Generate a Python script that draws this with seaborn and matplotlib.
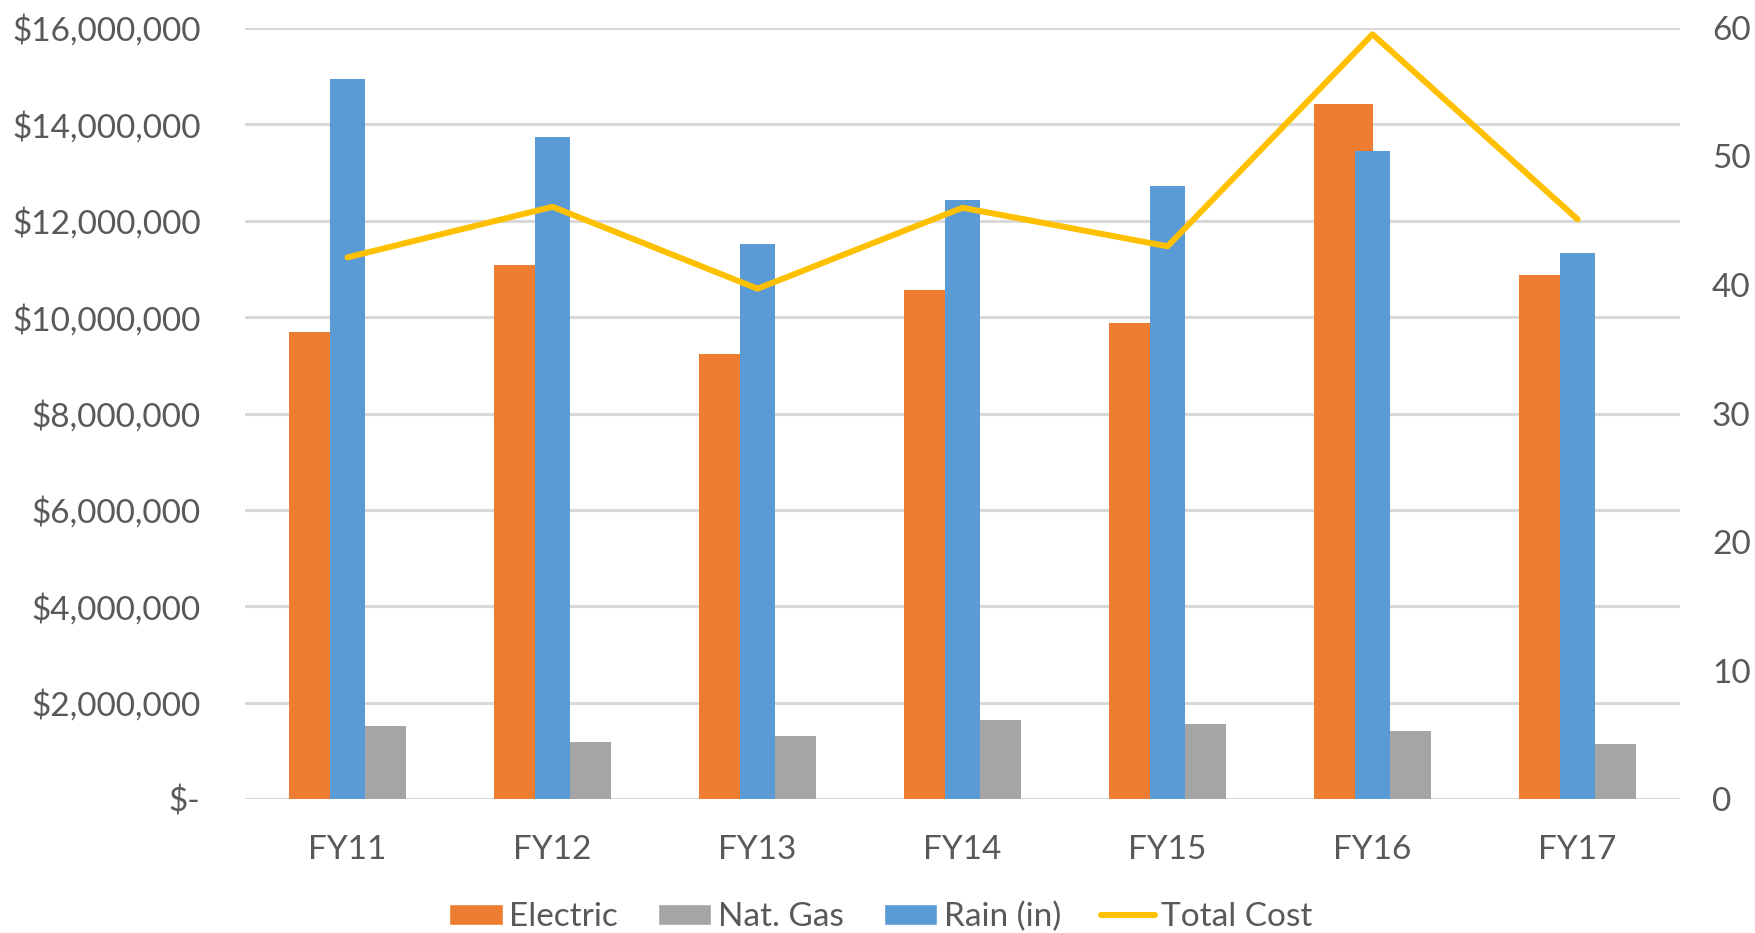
import pandas as pd
import matplotlib.pyplot as plt
import matplotlib.ticker as mticker
from matplotlib.patches import Patch
from matplotlib.lines import Line2D
import seaborn as sns

# values
years = ['FY11', 'FY12', 'FY13', 'FY14', 'FY15', 'FY16', 'FY17']
electric = [9.70e6, 11.08e6, 9.23e6, 10.57e6, 9.88e6, 14.42e6, 10.87e6]
nat_gas = [1.52e6, 1.19e6, 1.31e6, 1.65e6, 1.55e6, 1.41e6, 1.14e6]
rain_in = [56.0, 51.5, 43.2, 46.6, 47.7, 50.4, 42.5]
total_cost = [11.24e6, 12.29e6, 10.59e6, 12.27e6, 11.47e6, 15.87e6, 12.03e6]

orange = '#ED7D31'
gray = '#A5A5A5'
blue = '#5B9BD5'
gold = '#FFC000'
text_color = '#595959'
grid_color = '#D9D9D9'

sns.set_theme(style='white')
plt.rcParams['font.family'] = ['Lato', 'DejaVu Sans']

cost_df = pd.DataFrame({
    'Year': years * 2,
    'Cost': electric + nat_gas,
    'Type': ['Electric'] * len(years) + ['Nat. Gas'] * len(years),
})

fig, ax = plt.subplots(figsize=(17.55, 9.33), dpi=100)
fig.subplots_adjust(left=0.1396, right=0.9573, bottom=0.1436, top=0.970)

# primary axis: electric and gas side by side
sns.barplot(data=cost_df, x='Year', y='Cost', hue='Type', palette=[orange, gray],
            width=0.568, gap=0, saturation=1, legend=False, linewidth=0, ax=ax)
ax.set_ylim(0, 16e6)
ax.set_xlim(-0.5, len(years) - 0.5)
ax.yaxis.set_major_locator(mticker.MultipleLocator(2e6))
ax.yaxis.set_major_formatter(mticker.FuncFormatter(
    lambda v, p: '$-' if v == 0 else f'${v:,.0f}'))
ax.grid(axis='y', color=grid_color, linewidth=2.2)
ax.set_axisbelow(True)
ax.set_xlabel('')
ax.set_ylabel('')
ax.tick_params(axis='y', labelsize=24, colors=text_color, pad=32, length=0)
ax.tick_params(axis='x', labelsize=24, colors=text_color, pad=26, length=0)

# secondary axis: rain bars
ax2 = ax.twinx()
sns.barplot(x=years, y=rain_in, color=blue, width=0.17, saturation=1, linewidth=0, ax=ax2)
ax2.set_ylim(0, 60)
ax2.set_xlim(-0.5, len(years) - 0.5)
ax2.yaxis.set_major_locator(mticker.MultipleLocator(10))
ax2.tick_params(axis='y', labelsize=24, colors=text_color, pad=23, length=0)
ax2.set_ylabel('')

# total cost line on top, in primary units
ax3 = fig.add_axes(ax.get_position(), sharey=ax)
ax3.patch.set_visible(False)
sns.lineplot(x=years, y=total_cost, color=gold, linewidth=4.3, sort=False, ax=ax3)
ax3.set_xlim(-0.5, len(years) - 0.5)
ax3.axis('off')

for a in (ax, ax2, ax3):
    for s in a.spines.values():
        s.set_visible(False)

handles = [
    Patch(facecolor=orange, label='Electric'),
    Patch(facecolor=gray, label='Nat. Gas'),
    Patch(facecolor=blue, label='Rain (in)'),
    Line2D([0], [0], color=gold, linewidth=4.3, label='Total Cost'),
]
leg = fig.legend(handles=handles, loc='center', bbox_to_anchor=(0.502, 0.017), ncol=4,
                 frameon=False, fontsize=24, handlelength=1.6, handleheight=0.62,
                 handletextpad=0.2, columnspacing=1.2)
for t in leg.get_texts():
    t.set_color(text_color)

fig.savefig('out.png', dpi=100)
